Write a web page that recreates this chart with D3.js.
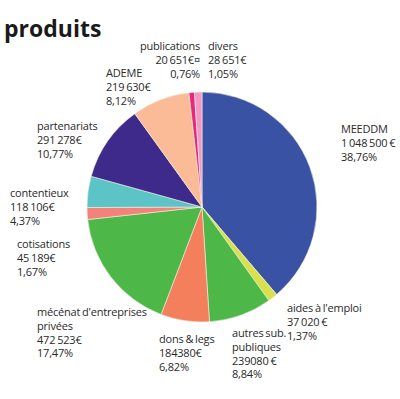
<!DOCTYPE html>
<html>
<head>
<meta charset="utf-8">
<script src="https://cdn.jsdelivr.net/npm/d3@7"></script>
<style>
  body { margin: 0; background: #fff; }
  svg text { font-family: "Open Sans", sans-serif; fill: #2a2a2a; }
</style>
</head>
<body>
<svg width="400" height="399"></svg>
<script>
// slices, clockwise from 12 o'clock
const categories = ["MEEDDM", "aides à l'emploi", "autres sub. publiques", "dons & legs",
  "mécénat d'entreprises privées", "cotisations", "contentieux", "partenariats",
  "ADEME", "publications", "divers"];
const percents = [38.76, 1.37, 8.84, 6.82, 17.47, 1.67, 4.37, 10.77, 8.12, 0.76, 1.05];
const colors = ["#3a52a3", "#d8e04c", "#4db848", "#f47f5c", "#4db848", "#f3837a",
  "#5cc3c6", "#3d2a8a", "#fbbb96", "#e32a7d", "#f29ac6"];

// label lines as printed next to the pie
const labelLines = [
  ["MEEDDM", "1 048 500 €", "38,76%"],
  ["aides à l'emploi", "37 020 €", "1,37%"],
  ["autres sub.", "publiques", "239080 €", "8,84%"],
  ["dons & legs", "184380€", "6,82%"],
  ["mécénat d'entreprises", "privées", "472 523€", "17,47%"],
  ["cotisations", "45 189€", "1,67%"],
  ["contentieux", "118 106€", "4,37%"],
  ["partenariats", "291 278€", "10,77%"],
  ["ADEME", "219 630€", "8,12%"],
  ["publications", "20 651€¤", "0,76%"],
  ["divers", "28 651€", "1,05%"]
];
// label anchor (left x or right x, first baseline)
const labelPos = [
  [341, 133, "start"], [287, 312, "start"], [232, 337, "start"], [159, 343, "start"],
  [37, 316, "start"], [17, 248, "start"], [10, 197, "start"], [37, 130, "start"],
  [106, 77, "start"], [200, 50, "end"], [208, 50, "start"]
];

const svg = d3.select("svg");
const cx = 202, cy = 207, radius = 115;

svg.append("text")
  .attr("x", 4)
  .attr("y", 37)
  .style("font-size", "23px")
  .style("font-weight", "bold")
  .style("fill", "#1a1a1a")
  .text("produits");

const pie = d3.pie().sort(null).value(d => d);
const arc = d3.arc().innerRadius(0).outerRadius(radius);

const g = svg.append("g")
  .attr("transform", "translate(" + cx + "," + cy + ")");

g.selectAll("path")
  .data(pie(percents))
  .enter()
  .append("path")
  .attr("d", arc)
  .attr("fill", (d, i) => colors[i])
  .attr("stroke", "#f4f0e0")
  .attr("stroke-width", 0.6);

// labels
labelLines.forEach((lines, i) => {
  const t = svg.append("text")
    .attr("x", labelPos[i][0])
    .attr("y", labelPos[i][1])
    .attr("text-anchor", labelPos[i][2])
    .style("font-size", "11px")
    .style("letter-spacing", "-0.2px")
    .style("word-spacing", "-0.8px");
  lines.forEach((line, j) => {
    t.append("tspan")
      .attr("x", labelPos[i][0])
      .attr("dy", j === 0 ? 0 : 13.8)
      .text(line);
  });
});
</script>
</body>
</html>
